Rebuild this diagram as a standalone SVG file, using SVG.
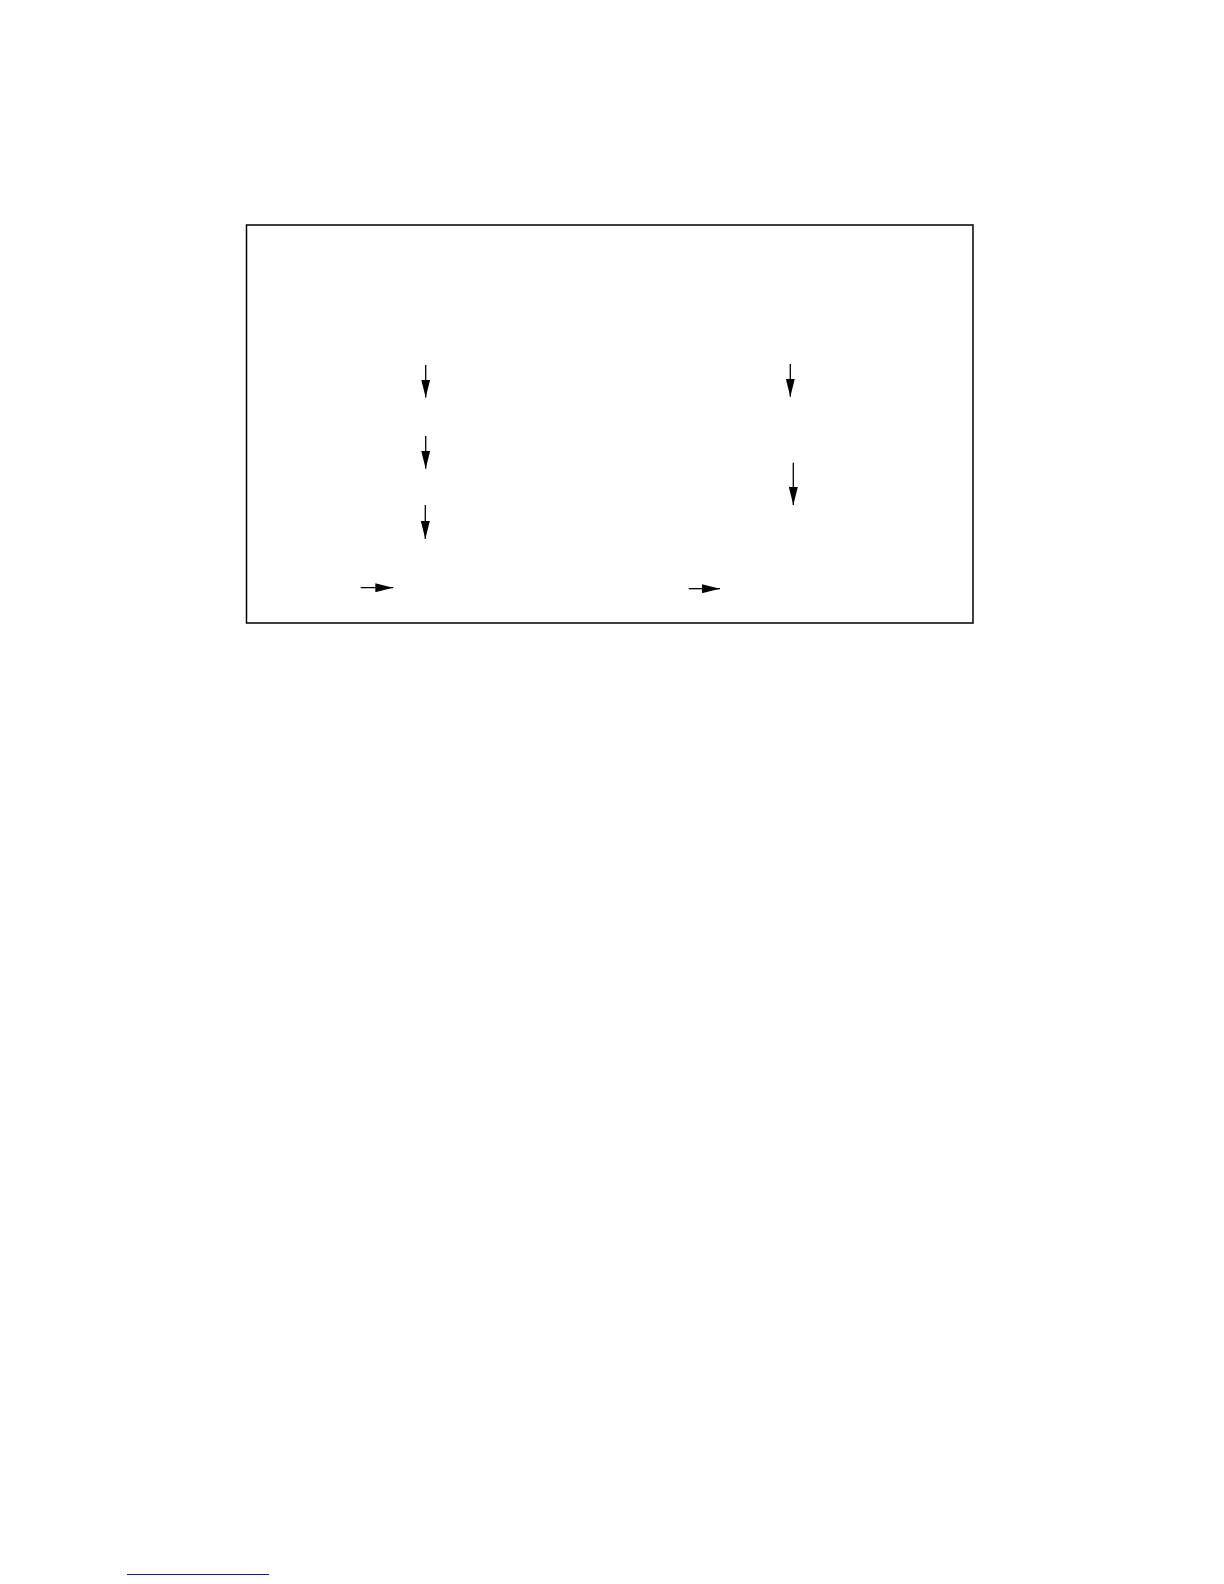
<svg xmlns="http://www.w3.org/2000/svg" width="1224" height="1584" viewBox="0 0 1224 1584">
<style>
.frame{fill:none;stroke:#000;stroke-width:1.5}
.conn{stroke:#000;stroke-width:1.3;fill:none}
.rule{stroke:#1a1a7a;stroke-width:1}
</style>
<defs>
<marker id="ah" markerUnits="userSpaceOnUse" markerWidth="18" markerHeight="9" refX="18" refY="4.5" orient="auto">
<path d="M0,0 L18,4.5 L0,9 Z" fill="#000"/>
</marker>
</defs>
<rect width="1224" height="1584" fill="#fff"/>
<g id="frame">
<rect class="frame" x="246.5" y="225" width="726.5" height="398"/>
</g>
<g id="connectors">
<line class="conn" x1="425.7" y1="365" x2="425.7" y2="397.5" marker-end="url(#ah)"/>
<line class="conn" x1="425.7" y1="436" x2="425.7" y2="468.7" marker-end="url(#ah)"/>
<line class="conn" x1="425.3" y1="505" x2="425.3" y2="539" marker-end="url(#ah)"/>
<line class="conn" x1="360.7" y1="587.7" x2="393.3" y2="587.7" marker-end="url(#ah)"/>
<line class="conn" x1="790.3" y1="364" x2="790.3" y2="396.7" marker-end="url(#ah)"/>
<line class="conn" x1="793.3" y1="462.7" x2="793.3" y2="505" marker-end="url(#ah)"/>
<line class="conn" x1="688.7" y1="588.7" x2="720" y2="588.7" marker-end="url(#ah)"/>
</g>
<g id="footer">
<line class="rule" x1="127" y1="1574.5" x2="269" y2="1574.5"/>
</g>
</svg>
